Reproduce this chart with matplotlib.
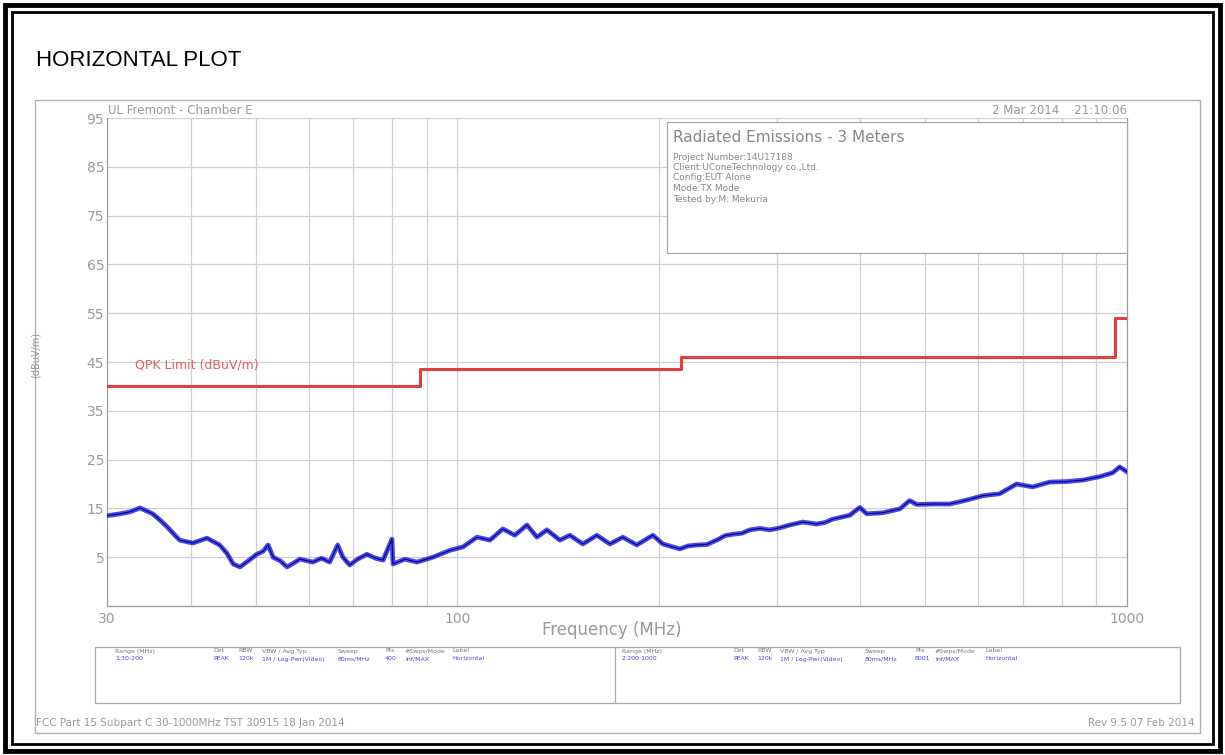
import matplotlib
matplotlib.use('Agg')
import matplotlib.pyplot as plt
from matplotlib.patches import Rectangle

trace_freq = [30.0, 31.4, 32.5, 33.6, 35.1, 36.0, 36.9, 38.5, 40.3, 42.3, 44.2, 45.3, 46.3, 47.4,
              48.8, 50.2, 51.3, 52.2, 53.1, 54.5, 55.7, 57.0, 58.2, 60.9, 62.7, 64.5, 66.3, 67.5,
              69.1, 71.0, 73.3, 75.5, 77.5, 79.9, 80.2, 83.5, 87.1, 92.0, 97.5, 102.0, 107.0,
              111.9, 117.0, 121.9, 127.1, 131.5, 136.1, 142.3, 147.3, 154.0, 161.6, 169.0,
              176.7, 185.4, 195.9, 202.8, 215.0, 221.0, 227.9, 235.9, 244.1, 250.9, 257.9,
              266.0, 273.4, 283.0, 292.9, 303.0, 313.7, 328.0, 344.1, 353.8, 363.6, 385.6,
              399.0, 408.7, 431.8, 457.9, 473.7, 485.4, 512.8, 543.8, 576.4, 609.0, 645.5,
              684.0, 723.3, 766.7, 812.8, 858.6, 910.5, 951.9, 975.0, 1000.0]
trace_level = [13.5, 13.9, 14.3, 15.1, 13.9, 12.6, 11.2, 8.5, 7.9, 8.9, 7.5, 5.8, 3.6, 3.0,
               4.3, 5.6, 6.2, 7.5, 5.0, 4.2, 3.0, 3.8, 4.6, 4.0, 4.8, 4.0, 7.5, 5.0,
               3.4, 4.6, 5.6, 4.8, 4.4, 8.7, 3.6, 4.6, 4.0, 5.0, 6.4, 7.1, 9.1,
               8.5, 10.8, 9.5, 11.6, 9.1, 10.6, 8.5, 9.5, 7.7, 9.5, 7.7,
               9.1, 7.5, 9.5, 7.7, 6.7, 7.3, 7.5, 7.6, 8.5, 9.4, 9.7,
               9.9, 10.6, 10.9, 10.6, 11.0, 11.6, 12.2, 11.8, 12.1, 12.8, 13.6,
               15.2, 13.9, 14.1, 14.9, 16.6, 15.8, 15.9, 15.9, 16.7, 17.6, 18.0,
               20.0, 19.4, 20.4, 20.5, 20.8, 21.5, 22.3, 23.5, 22.5]

# QPK limit line
limit_freq = [30, 88, 88, 216, 216, 960, 960, 1000]
limit_level = [40, 40, 43.5, 43.5, 46, 46, 54, 54]

y_ticks = [5, 15, 25, 35, 45, 55, 65, 75, 85, 95]
x_grid = [40, 50, 60, 70, 80, 90, 100, 200, 300, 400, 500, 600, 700, 800, 900]

info_lines = ['Project Number:14U17188', 'Client:UConeTechnology co.,Ltd.',
              'Config:EUT Alone', 'Mode:TX Mode', 'Tested by:M. Mekuria']

table_head = ['Range (MHz)', 'Det', 'RBW', 'VBW / Avg Typ', 'Sweep', 'Pts', '#Swps/Mode', 'Label']
table_row1 = ['1:30-200', 'PEAK', '120k', '1M / Log-Pwr(Video)', '80ms/MHz', '400', 'Inf/MAX', 'Horizontal']
table_row2 = ['2:200-1000', 'PEAK', '120k', '1M / Log-Pwr(Video)', '80ms/MHz', '8001', 'Inf/MAX', 'Horizontal']

W, H = 1225, 755
GRAY = '#9a9a9a'
GRID = '#d0d0d0'


def fx(x):
    return x / W


def fy(y):
    return 1 - y / H


fig = plt.figure(figsize=(W / 100, H / 100), dpi=100)

# double black page border
fig.patches.append(Rectangle((fx(5), fy(751)), fx(1215), 746 / H, fill=False,
                             lw=3.5, ec='black', transform=fig.transFigure))
fig.patches.append(Rectangle((fx(12), fy(744)), fx(1201), 732 / H, fill=False,
                             lw=2, ec='black', transform=fig.transFigure))
# gray plot sheet frame
fig.patches.append(Rectangle((fx(35), fy(733)), fx(1165), 633 / H, fill=False,
                             lw=1, ec='#b0b0b0', transform=fig.transFigure))

fig.text(fx(36), fy(60), 'HORIZONTAL PLOT', fontsize=16, family='Liberation Sans',
         va='center', ha='left')

ax = fig.add_axes([fx(107), fy(606), fx(1127) - fx(107), (606 - 118) / H])
ax.set_xscale('log')
ax.set_xlim(30, 1000)
ax.set_ylim(-5, 95)

for f in x_grid:
    ax.axvline(f, color=GRID, lw=0.9, zorder=0)
for v in y_ticks:
    ax.axhline(v, color=GRID, lw=0.9, zorder=0)

ax.plot(limit_freq, limit_level, color='#e04040', lw=2.2, zorder=3)
ax.plot(trace_freq, trace_level, color='#2a2ae6', lw=3.4, alpha=0.85, zorder=4)
ax.plot(trace_freq, trace_level, color='#00008a', lw=0.8, zorder=5)

ax.set_yticks(y_ticks)
ax.set_yticklabels([str(v) for v in y_ticks])
ax.set_xticks([30, 100, 1000])
ax.set_xticklabels(['30', '100', '1000'])
ax.minorticks_off()
ax.tick_params(axis='both', colors=GRAY, labelcolor=GRAY, length=0, labelsize=10)
ax.tick_params(axis='y', pad=2)
ax.tick_params(axis='x', pad=4)
for side in ['left', 'bottom', 'top', 'right']:
    ax.spines[side].set_color(GRAY)
    ax.spines[side].set_linewidth(0.9)
ax.spines['top'].set_visible(False)

ax.text(33.0, 44.4, 'QPK Limit (dBuV/m)', color='#e06060', fontsize=9, va='center')

# info box
fig.patches.append(Rectangle((fx(667), fy(253)), fx(1127) - fx(667), 131 / H,
                             fc='white', ec='#a8a8a8', lw=0.9,
                             transform=fig.transFigure, zorder=10))
fig.text(fx(673), fy(137), 'Radiated Emissions - 3 Meters', fontsize=11,
         color='#888888', va='center', zorder=11)
for i, line in enumerate(info_lines):
    fig.text(fx(673), fy(157 + i * 10.5), line, fontsize=6.5, color='#888888',
             va='center', zorder=11)

fig.text(fx(108), fy(111), 'UL Fremont - Chamber E', fontsize=8.5, color=GRAY, va='center')
fig.text(fx(1127), fy(111), '2 Mar 2014    21:10:06', fontsize=8.5, color=GRAY,
         va='center', ha='right')
fig.text(fx(36), fy(355), '(dBuV/m)', rotation=90, fontsize=7, color=GRAY,
         va='center', ha='center')
fig.text(fx(612), fy(630), 'Frequency (MHz)', fontsize=12, color=GRAY,
         va='center', ha='center')

# settings table
fig.patches.append(Rectangle((fx(95), fy(703)), fx(1085), 56 / H, fill=False,
                             ec='#a8a8a8', lw=0.9, transform=fig.transFigure))
fig.add_artist(plt.Line2D([fx(615), fx(615)], [fy(703), fy(647)], color='#a8a8a8',
                          lw=0.9, transform=fig.transFigure))
cols1 = [115, 213, 238, 262, 338, 385, 405, 452]
cols2 = [622, 733, 757, 780, 865, 915, 935, 985]
for cols, row in [(cols1, table_row1), (cols2, table_row2)]:
    for x, h, v in zip(cols, table_head, row):
        fig.text(fx(x), fy(651), h, fontsize=4.5, color='#777777', va='center')
        fig.text(fx(x), fy(659), v, fontsize=4.5, color='#4848e0', va='center')

fig.text(fx(36), fy(723), 'FCC Part 15 Subpart C 30-1000MHz TST 30915 18 Jan 2014',
         fontsize=7.5, color=GRAY, va='center')
fig.text(fx(1195), fy(723), 'Rev 9.5 07 Feb 2014', fontsize=7.5, color=GRAY,
         va='center', ha='right')

fig.savefig('out.png', dpi=100)
